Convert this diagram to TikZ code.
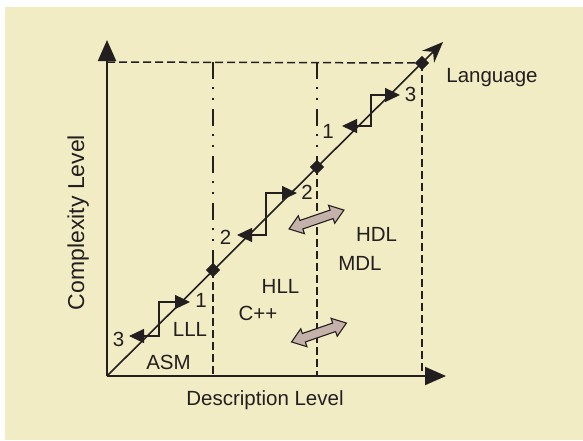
\documentclass[tikz,border=0pt]{standalone}
\usepackage{fontspec}
\setmainfont{Liberation Sans}
\usetikzlibrary{arrows.meta,shapes.geometric}
\definecolor{paper}{RGB}{242,236,196}
\definecolor{ink}{RGB}{35,31,32}
\definecolor{swap}{RGB}{196,178,170}
\begin{document}
\begin{tikzpicture}[x=1pt,y=-1pt,
  axis/.style={line width=2pt, draw=ink, -{Triangle[length=21pt,width=18pt]}},
  diag/.style={line width=1.6pt, draw=ink, -{Stealth[length=21pt,width=17pt,inset=7pt]}},
  dashpat/.style={line width=1.5pt, draw=ink, dash pattern=on 8pt off 4pt},
  dotpat/.style={line width=1.5pt, draw=ink, dash pattern=on 17pt off 8pt on 2pt off 9pt on 2pt off 9pt},
  hinge/.style={diamond, fill=ink, minimum width=14pt, minimum height=14pt, inner sep=0pt},
  stepline/.style={line width=1.2pt, draw=ink, {Triangle[length=15pt,width=14pt]}-{Triangle[length=15pt,width=14pt]}},
  lbl/.style={text=ink, font=\fontsize{20.5}{24}\selectfont, anchor=base, inner sep=0pt},
  swaparrow/.pic={\filldraw[fill=swap, draw=ink, line width=1.1pt, line join=miter]
    (-29,0) -- (-16,-9.5) -- (-16,-4.5) -- (16,-4.5) -- (16,-9.5) -- (29,0)
    -- (16,9.5) -- (16,4.5) -- (-16,4.5) -- (-16,9.5) -- cycle;}
]
\useasboundingbox (0,0) rectangle (583,440);
\fill[paper] (5,7) rectangle (583,440);

% reference points
\coordinate (O) at (107,376);
\coordinate (ytip) at (107,40);
\coordinate (xtip) at (446,376);
\coordinate (dtip) at (443,42);
\coordinate (t0) at (107,62);
\coordinate (t1) at (213,62);
\coordinate (t2) at (317,62);
\coordinate (b1) at (213,376);
\coordinate (b2) at (317,376);
\coordinate (b3) at (422,376);

% level boundaries on the diagonal
\node[hinge] (d1) at (213,270) {};
\node[hinge] (d2) at (317,167) {};
\node[hinge] (d3) at (422,63) {};

% guide lines
\draw[dashpat] (t0) -- (d3.center);
\draw[dotpat] (t1) -- (d1.center);
\draw[dashpat] (d1.center) -- (b1);
\draw[dotpat] (t2) -- (d2.center);
\draw[dashpat] (d2.center) -- (b2);
\draw[dashpat] (d3.center) -- (b3);

% axes and diagonal
\draw[axis] (O) -- (ytip);
\draw[axis] (O) -- (xtip);
\draw[diag] (O) -- (dtip);
\node[hinge] at (d1) {};
\node[hinge] at (d2) {};
\node[hinge] at (d3) {};

% step transitions
\coordinate (s1a) at (129,336); \coordinate (s1b) at (190,302);
\coordinate (s2a) at (237,235); \coordinate (s2b) at (297,193);
\coordinate (s3a) at (342,126); \coordinate (s3b) at (400,95);
\draw[stepline] (s1a) -| (159,302) -- (s1b);
\draw[stepline] (s2a) -| (266,193) -- (s2b);
\draw[stepline] (s3a) -| (371,95) -- (s3b);

% two-way arrows
\pic[rotate=19] at (316.5,219.5) {swaparrow};
\pic[rotate=19] at (319,332.5) {swaparrow};

% labels
\node[lbl] (lang) at (492,82) {Language};
\node[lbl] (xlab) at (265,405.7) {Description Level};
\node[lbl, rotate=90, font=\fontsize{23}{27}\selectfont] (ylab) at (84,222.5) {Complexity Level};
\node[lbl] (hdl) at (376.5,241) {HDL};
\node[lbl] (mdl) at (360,270.7) {MDL};
\node[lbl] (hll) at (280.5,293) {HLL};
\node[lbl] (cpp) at (258,320) {C++};
\node[lbl] (lll) at (190,336.7) {LLL};
\node[lbl] (asm) at (168.5,369) {ASM};
\node[lbl] (n3a) at (118.5,346.7) {3};
\node[lbl] (n1a) at (201,307.3) {1};
\node[lbl] (n2a) at (225.5,244.3) {2};
\node[lbl] (n2b) at (307,199) {2};
\node[lbl] (n1b) at (328,138) {1};
\node[lbl] (n3b) at (410.5,101.7) {3};
\end{tikzpicture}
\end{document}
